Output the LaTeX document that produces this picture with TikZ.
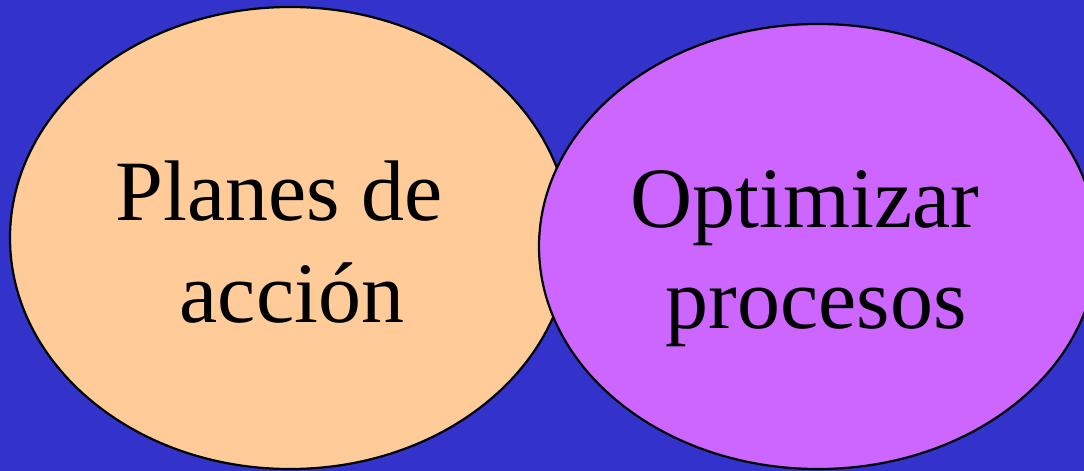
\documentclass[tikz,border=0pt]{standalone}
\usepackage{fontspec}
\setmainfont{Liberation Serif}
\usetikzlibrary{shapes.geometric}
\definecolor{bgblue}{HTML}{3333CC}
\definecolor{peach}{HTML}{FFCC99}
\definecolor{violet}{HTML}{CC66FF}
\tikzset{
  blob/.style={ellipse, draw=black, line width=2.2pt, inner sep=0pt},
  lbl/.style={anchor=base, inner sep=0pt, font=\fontsize{86}{102}\selectfont}
}
\begin{document}
\begin{tikzpicture}[x=1pt,y=-1pt]
\useasboundingbox (0,0) rectangle (1084,471);
\clip (0,0) rectangle (1084,471);
\fill[bgblue] (0,0) rectangle (1084,471);
\node[blob, fill=peach, minimum width=560pt, minimum height=462pt] (left) at (290,238) {};
\node[blob, fill=violet, minimum width=558pt, minimum height=445pt] (right) at (818,246.5) {};
\node[lbl] (l1) at (279,220) {Planes de};
\node[lbl] (l2) at (292,322) {acción};
\node[lbl] (r1) at (805,227) {Optimizar};
\node[lbl] (r2) at (816,328) {procesos};
\end{tikzpicture}
\end{document}
